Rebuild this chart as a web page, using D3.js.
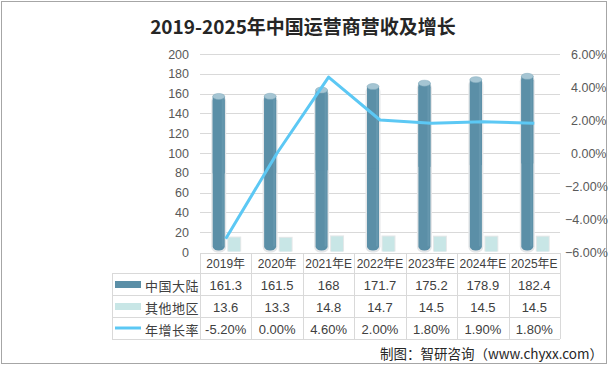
<!DOCTYPE html>
<html><head><meta charset="utf-8">
<script src="https://cdn.jsdelivr.net/npm/d3@7"></script>
<style>
body{margin:0;background:#fff;}
svg{display:block;font-family:"Liberation Sans","Noto Sans CJK SC",sans-serif;}
</style></head>
<body><svg id="c" width="609" height="367"></svg>
<script>
const categories = ["2019年","2020年","2021年E","2022年E","2023年E","2024年E","2025年E"];
const mainland = [161.3,161.5,168,171.7,175.2,178.9,182.4];
const otherRegions = [13.6,13.3,14.8,14.7,14.5,14.5,14.5];
const growth = [-5.2,0.0,4.6,2.0,1.8,1.9,1.8];
const leftTicks = [0,20,40,60,80,100,120,140,160,180,200];
const rightTicks = [-6,-4,-2,0,2,4,6];
const seriesNames = ["中国大陆","其他地区","年增长率"];
const growthLabels = ["-5.20%","0.00%","4.60%","2.00%","1.80%","1.90%","1.80%"];

const svg = d3.select("#c");
const W = 609, H = 367;
const plotL = 200, plotR = 560, plotT = 54, plotB = 252;
const cMain = "#5b8fa7", cMainCap = "#a5c5d3", cOther = "#c8e6e6", cLine = "#5cc8f4";
const grid = "#d9d9d9", tickCol = "#595959", txt = "#404040";

// frame
svg.append("rect").attr("x",1.5).attr("y",1.5).attr("width",W-4).attr("height",H-5)
  .attr("fill","#fff").attr("stroke","#a6a6a6").attr("stroke-width",1);

// title
svg.append("text").attr("x",303).attr("y",34).attr("text-anchor","middle")
  .attr("font-family","'Noto Sans CJK SC',sans-serif").attr("font-weight",700)
  .attr("font-size",19).attr("fill","#262626").text("2019-2025年中国运营商营收及增长");

const x = d3.scaleBand().domain(categories).range([plotL, plotR]);
const yL = d3.scaleLinear().domain([0,200]).range([plotB, plotT]);
const yR = d3.scaleLinear().domain([-6,6]).range([plotB, plotT]);
// 3D perspective: bar floor sits slightly behind the axis plane
const yBar = d3.scaleLinear().domain([0,200]).range([250.5, 59.5]);

// gridlines
svg.append("g").selectAll("line").data(leftTicks.filter(d=>d>0)).join("line")
  .attr("x1",plotL).attr("x2",plotR)
  .attr("y1",d=>Math.round(yL(d))+0.5).attr("y2",d=>Math.round(yL(d))+0.5)
  .attr("stroke",grid).attr("stroke-width",1);

// left axis
const gL = svg.append("g").attr("transform",`translate(${plotL-11},0)`)
  .call(d3.axisLeft(yL).tickValues(leftTicks).tickSize(0).tickPadding(0));
gL.select(".domain").remove();
gL.selectAll("text").attr("fill",tickCol).attr("font-size",12.5).attr("font-family","'Liberation Sans',sans-serif");

// right axis
const gR = svg.append("g").attr("transform",`translate(${plotR+11},0)`)
  .call(d3.axisRight(yR).tickValues(rightTicks).tickSize(0).tickPadding(0)
    .tickFormat(d=>d3.format(".2f")(d)+"%"));
gR.select(".domain").remove();
gR.selectAll("text").attr("fill",tickCol).attr("font-size",12.5).attr("font-family","'Liberation Sans',sans-serif")
  .attr("dx",d=>d<0?-6:0);

// bars
const bw = 12;
const bars = svg.append("g");
categories.forEach((c,i)=>{
  const cx = x(c) + x.bandwidth()/2;
  const x0 = cx - 13, top = yBar(mainland[i]), bot = yBar(0);
  bars.append("rect").attr("x",x0-1.5).attr("y",top-1).attr("width",bw+3).attr("height",bot-top+3)
    .attr("rx",6).attr("fill","#e4e6e8");
  bars.append("rect").attr("x",x0).attr("y",top).attr("width",bw).attr("height",bot-top)
    .attr("rx",6).attr("ry",4).attr("fill",cMain);
  bars.append("rect").attr("x",x0).attr("y",top).attr("width",bw).attr("height",(bot-top)/2)
    .attr("fill",cMain);
  bars.append("rect").attr("x",x0+bw-3).attr("y",top+2).attr("width",2).attr("height",bot-top-6)
    .attr("fill","#6d9db3").attr("opacity",0.6);
  bars.append("ellipse").attr("cx",x0+bw/2).attr("cy",top).attr("rx",bw/2).attr("ry",3)
    .attr("fill",cMainCap).attr("stroke","#7fa8bb").attr("stroke-width",0.5);
  const x1 = cx + 2.5, t2 = yBar(otherRegions[i]);
  bars.append("rect").attr("x",x1-1).attr("y",t2-1).attr("width",bw+2).attr("height",yBar(0)-t2+2)
    .attr("fill","#e6e8e9");
  bars.append("rect").attr("x",x1).attr("y",t2).attr("width",bw).attr("height",yBar(0)-t2+1)
    .attr("fill",cOther);
});

// growth line
const line = d3.line().x((d,i)=>x(categories[i])+x.bandwidth()/2).y(d=>yR(d));
svg.append("path").datum(growth).attr("d",line).attr("fill","none")
  .attr("stroke",cLine).attr("stroke-width",3).attr("stroke-linejoin","round");

// data table
const rowY = [253, 273, 295, 317, 339];
const legL = 112;
const tg = svg.append("g").attr("stroke",grid).attr("stroke-width",1);
tg.append("line").attr("x1",plotL).attr("x2",plotR).attr("y1",rowY[0]+0.5).attr("y2",rowY[0]+0.5);
rowY.slice(1).forEach(y=>tg.append("line").attr("x1",legL).attr("x2",plotR).attr("y1",y+0.5).attr("y2",y+0.5));
tg.append("line").attr("x1",legL+0.5).attr("x2",legL+0.5).attr("y1",rowY[1]).attr("y2",rowY[4]);
categories.forEach(c=>{
  const xx = Math.round(x(c))+0.5;
  tg.append("line").attr("x1",xx).attr("x2",xx).attr("y1",rowY[0]).attr("y2",rowY[4]);
});
tg.append("line").attr("x1",plotR+0.5).attr("x2",plotR+0.5).attr("y1",rowY[0]).attr("y2",rowY[4]);

const cellText = (y,t,xc,fs)=>svg.append("text").attr("x",xc).attr("y",y).attr("text-anchor","middle")
  .attr("dominant-baseline","central").attr("font-size",fs).attr("fill",txt)
  .attr("font-family","'Liberation Sans','Noto Sans CJK SC',sans-serif").text(t);
const mid = i=>(rowY[i]+rowY[i+1])/2+1;
categories.forEach((c,i)=>{
  const xc = x(c)+x.bandwidth()/2;
  cellText(mid(0), c, xc, 12);
  cellText(mid(1), String(mainland[i]), xc, 13);
  cellText(mid(2), String(otherRegions[i]), xc, 13);
  cellText(mid(3), growthLabels[i], xc, 13);
});
// legend cells
svg.append("rect").attr("x",115).attr("y",mid(1)-4).attr("width",26).attr("height",7).attr("fill",cMain);
svg.append("rect").attr("x",115).attr("y",mid(2)-4).attr("width",26).attr("height",7).attr("fill",cOther);
svg.append("line").attr("x1",115).attr("x2",141).attr("y1",mid(3)-1).attr("y2",mid(3)-1)
  .attr("stroke",cLine).attr("stroke-width",3);
seriesNames.forEach((n,i)=>{
  svg.append("text").attr("x",145).attr("y",mid(i+1)).attr("dominant-baseline","central")
    .attr("font-size",13).attr("letter-spacing",0.5).attr("fill",txt)
    .attr("font-family","'Noto Sans CJK SC',sans-serif").text(n);
});

// source
svg.append("text").attr("x",603).attr("y",353).attr("text-anchor","end").attr("dominant-baseline","central")
  .attr("font-size",13.5).attr("fill","#262626")
  .attr("font-family","'Noto Sans CJK SC',sans-serif").text("制图：智研咨询（www.chyxx.com）");
</script></body></html>
